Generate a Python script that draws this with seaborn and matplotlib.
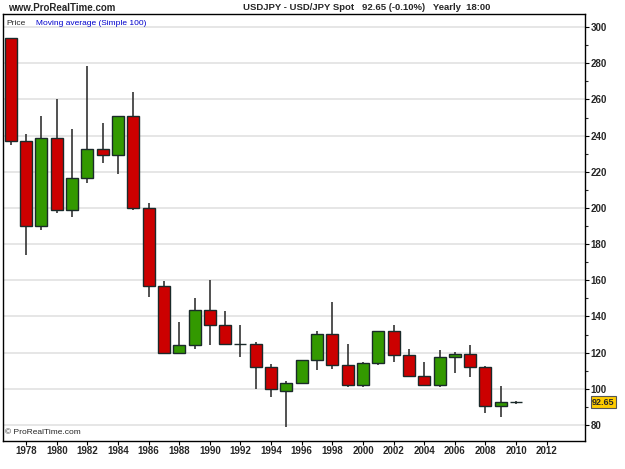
import matplotlib
matplotlib.use("Agg")
import matplotlib.pyplot as plt
from matplotlib.ticker import MultipleLocator
import seaborn as sns
import pandas as pd

# yearly USD/JPY candles
years = list(range(1977, 2011))
opens = [294, 237, 190, 238.5, 199, 216.5, 232.5, 229, 251, 200, 157, 120, 124, 143.5, 135.5, 125,
         124.5, 112, 99, 103, 115.7, 130.2, 113, 102, 114.3, 132, 118.5, 106.9, 102.1, 117.8, 119, 112,
         90.7, 92.5]
highs = [294, 241, 251, 260, 243.5, 278.5, 247, 251, 264, 203, 159.5, 137, 150, 160, 143, 135.3,
         126, 113.7, 104.5, 116, 132, 148, 125, 115, 132, 135, 122, 115, 121.4, 120.2, 124, 112.5,
         101.5, 93.3]
lows = [235, 174, 188, 197, 195, 214, 225, 218.5, 199, 151, 120, 119.5, 122, 124, 125, 117.7,
        100, 95.6, 79, 103, 110.4, 111, 101, 101.2, 113.2, 115, 106.3, 101.5, 101.2, 108.6, 106.7,
        86.8, 84.6, 91.6]
closes = [237, 190, 238.5, 199, 216.5, 232.5, 229, 251, 200, 157, 120, 124, 143.5, 135.5, 125, 125,
          112, 99.7, 103, 115.7, 130.2, 113, 102.3, 114.3, 132, 118.5, 106.9, 102.1, 117.8, 119, 112,
          90.7, 92.5, 92.5]
last_price = 92.65

df = pd.DataFrame({"year": years, "open": opens, "high": highs, "low": lows, "close": closes})

sns.set_style("white")
plt.rcParams["font.family"] = ["Liberation Sans", "DejaVu Sans"]

fig = plt.figure(figsize=(6.25, 4.69), dpi=100)
ax = fig.add_axes([0.005, 0.06, 0.931, 0.91])

up_col = "#339900"
down_col = "#cc0000"

# wicks
ax.vlines(df["year"], df["low"], df["high"], color="#333333", linewidth=1.2, zorder=2)

# bodies
for _, r in df.iterrows():
    lo = min(r["open"], r["close"])
    h = abs(r["close"] - r["open"])
    if h < 0.5:
        col = "#000000"
    elif r["close"] > r["open"]:
        col = up_col
    else:
        col = down_col
    ax.bar(r["year"], h, bottom=lo, width=0.78, color=col, edgecolor="#1a2a2a",
           linewidth=1.0, zorder=3)

ax.set_xlim(1976.5, 2014.5)
ax.set_ylim(71.2, 307.2)

ax.yaxis.tick_right()
ax.yaxis.set_major_locator(MultipleLocator(20))
ax.yaxis.set_minor_locator(MultipleLocator(10))
ax.set_yticks(range(80, 301, 20))
ax.set_xticks(range(1978, 2013, 2))
ax.tick_params(axis="both", which="major", labelsize=7, length=3, width=0.8,
               direction="out", color="black", pad=1)
ax.tick_params(axis="y", which="minor", length=2, width=0.8, right=True, left=False)
ax.tick_params(axis="x", bottom=True)
for lab in ax.get_xticklabels() + ax.get_yticklabels():
    lab.set_fontweight("bold")

ax.grid(axis="y", color="#e2e2e2", linewidth=1.2, zorder=0)
ax.set_axisbelow(True)
for s in ax.spines.values():
    s.set_color("black")
    s.set_linewidth(1.0)

ax.set_xlabel("")
ax.set_ylabel("")

# current price tag
ax.text(1.012, (last_price - 71.2) / (307.2 - 71.2), f"{last_price:.2f}", transform=ax.transAxes,
        fontsize=6.5, fontweight="bold", va="center", ha="left",
        bbox=dict(boxstyle="square,pad=0.15", facecolor="#ffcc00", edgecolor="#555555",
                  linewidth=0.8), clip_on=False)

# header texts
fig.text(0.013, 0.984, "www.ProRealTime.com", fontsize=7, fontweight="bold", va="center")
fig.text(0.389, 0.984, "USDJPY - USD/JPY Spot   92.65 (-0.10%)   Yearly  18:00",
         fontsize=6.8, fontweight="bold", va="center")
ax.text(0.005, 0.985, "Price", transform=ax.transAxes, fontsize=6, va="top", ha="left")
ax.text(0.057, 0.985, "Moving average (Simple 100)", transform=ax.transAxes, fontsize=6,
        va="top", ha="left", color="#0000cc")
ax.text(0.003, 0.012, "\u00a9 ProRealTime.com", transform=ax.transAxes, fontsize=6,
        va="bottom", ha="left")

fig.savefig("out.png", dpi=100)
